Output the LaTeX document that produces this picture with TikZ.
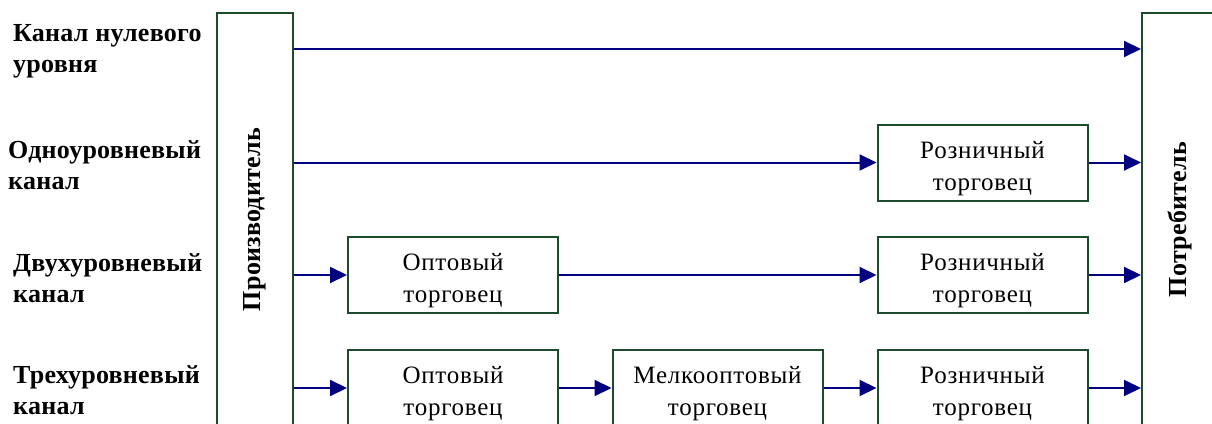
\documentclass[tikz,border=0pt]{standalone}
\usepackage{fontspec}
\setmainfont[LetterSpace=1]{Liberation Serif}
\newfontfamily\boxfont[LetterSpace=3]{Liberation Serif}
\usetikzlibrary{arrows.meta}
\definecolor{boxgreen}{RGB}{30,75,45}
\definecolor{arrblue}{RGB}{0,0,128}
\newcommand{\fstrut}{\rule{0pt}{29pt}}
\begin{document}
\begin{tikzpicture}[x=1pt,y=-1pt,
  box/.style={draw=boxgreen,line width=2pt,minimum width=210pt,minimum height=76pt,inner sep=0pt,align=center,font=\boxfont\fontsize{25}{32}\selectfont},
  bigbox/.style={draw=boxgreen,line width=2pt,minimum width=76pt,minimum height=413pt,inner sep=0pt,font=\bfseries\fontsize{26}{28}\selectfont},
  arr/.style={draw=arrblue,line width=2pt,-{Triangle[length=17pt,width=16pt]}},
  lbl/.style={anchor=west,align=left,font=\bfseries\fontsize{26}{31}\selectfont,inner sep=0pt}]
\useasboundingbox (0,0) rectangle (1212,423);
\clip (0,0) rectangle (1212,423);
% side boxes
\node[bigbox] (prod) at (255,219.5) {\rotatebox{90}{Производитель}};
\node[bigbox] (cons) at (1180,219.5) {\rotatebox{90}{Потребитель}};
% row labels
\node[lbl] (l1) at (13,51.5) {Канал нулевого\\уровня};
\node[lbl] (l2) at (8,165) {Одноуровневый\\канал};
\node[lbl] (l3) at (13,278) {Двухуровневый\\канал};
\node[lbl] (l4) at (13,390) {Трехуровневый\\канал};
% boxes
\node[box] (r2) at (982.5,162.5) {\fstrut Розничный\\торговец};
\node[box] (w3) at (453,275) {\fstrut Оптовый\\торговец};
\node[box] (r3) at (982.5,275) {\fstrut Розничный\\торговец};
\node[box] (w4) at (453,388) {\fstrut Оптовый\\торговец};
\node[box] (m4) at (717.5,388) {\fstrut Мелкооптовый\\торговец};
\node[box] (r4) at (982.5,388) {\fstrut Розничный\\торговец};
% arrows
\coordinate (p1) at (prod.east |- 0,49);
\coordinate (c1) at (cons.west |- 0,49);
\draw[arr] (p1) -- (c1);
\draw[arr] (prod.east |- r2.west) -- (r2.west);
\draw[arr] (r2.east) -- (cons.west |- r2.east);
\draw[arr] (prod.east |- w3.west) -- (w3.west);
\draw[arr] (w3.east) -- (r3.west);
\draw[arr] (r3.east) -- (cons.west |- r3.east);
\draw[arr] (prod.east |- w4.west) -- (w4.west);
\draw[arr] (w4.east) -- (m4.west);
\draw[arr] (m4.east) -- (r4.west);
\draw[arr] (r4.east) -- (cons.west |- r4.east);
\end{tikzpicture}
\end{document}
